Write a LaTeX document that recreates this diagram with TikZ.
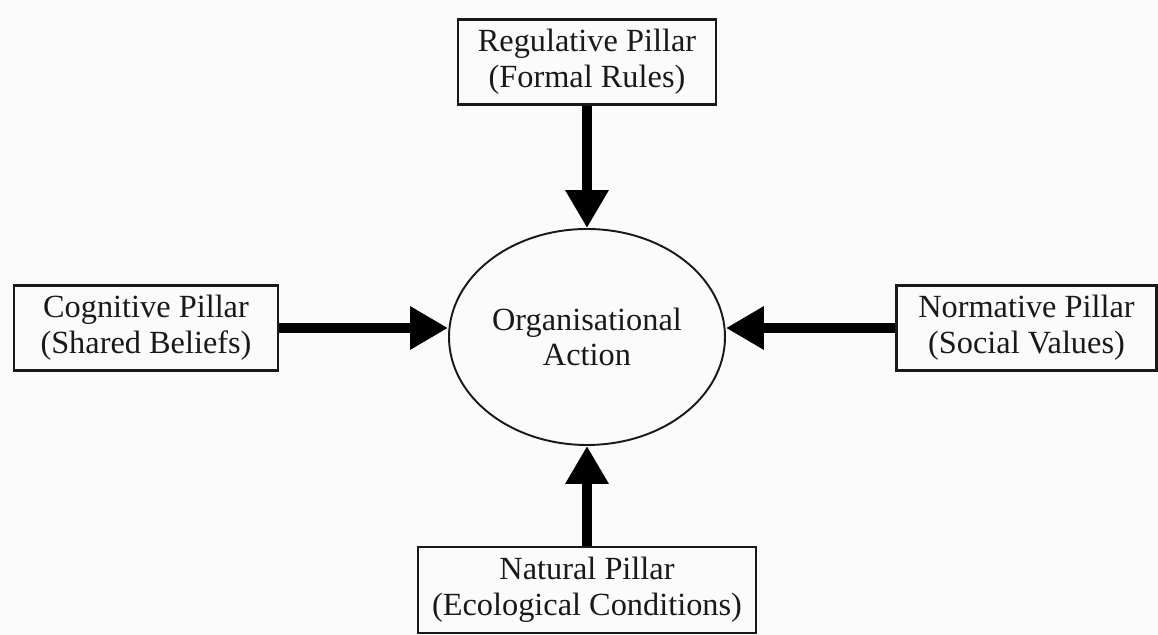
\documentclass[tikz,border=0pt]{standalone}
\usepackage{fontspec}
\setmainfont{Liberation Serif}
\usetikzlibrary{arrows.meta,shapes.geometric}
\begin{document}
\begin{tikzpicture}[x=0.1mm,y=-0.1mm,
  pillar/.style={draw=black!90,line width=0.6pt,rectangle,align=center,
    font=\fontsize{9.2}{10.2}\selectfont,text=black!90,inner sep=0pt},
  centre/.style={draw=black!90,line width=0.55pt,ellipse,align=center,
    font=\fontsize{9.2}{10.2}\selectfont,text=black!90,inner sep=0pt,
    minimum width=27.6mm,minimum height=21.6mm},
  flow/.style={line width=2.9pt,black,
    -{Triangle[width=4.1mm,length=3.8mm]}}]
  % canvas
  \fill[white!98.5!black] (0,0) rectangle (1158,635);
  \useasboundingbox (0,0) rectangle (1158,635);

  % central action
  \node[centre] (act) at (587,337) {Organisational\\Action};

  % the four pillars
  \node[pillar,minimum width=25.8mm,minimum height=8.5mm] (reg) at (587,62)
    {Regulative Pillar\\(Formal Rules)};
  \node[pillar,minimum width=26.4mm,minimum height=8.5mm] (cog) at (146,328)
    {Cognitive Pillar\\(Shared Beliefs)};
  \node[pillar,minimum width=26.0mm,minimum height=8.5mm] (nor) at (1026.5,328)
    {Normative Pillar\\(Social Values)};
  \node[pillar,minimum width=33.8mm,minimum height=8.6mm] (nat) at (587,590)
    {Natural Pillar\\(Ecological Conditions)};

  % influences on action
  \draw[flow] (reg.south) -- (act.north);
  \draw[flow] (cog.east) -- (act.west |- cog.east);
  \draw[flow] (nor.west) -- (act.east |- nor.west);
  \draw[flow] (nat.north) -- (act.south);
\end{tikzpicture}
\end{document}
